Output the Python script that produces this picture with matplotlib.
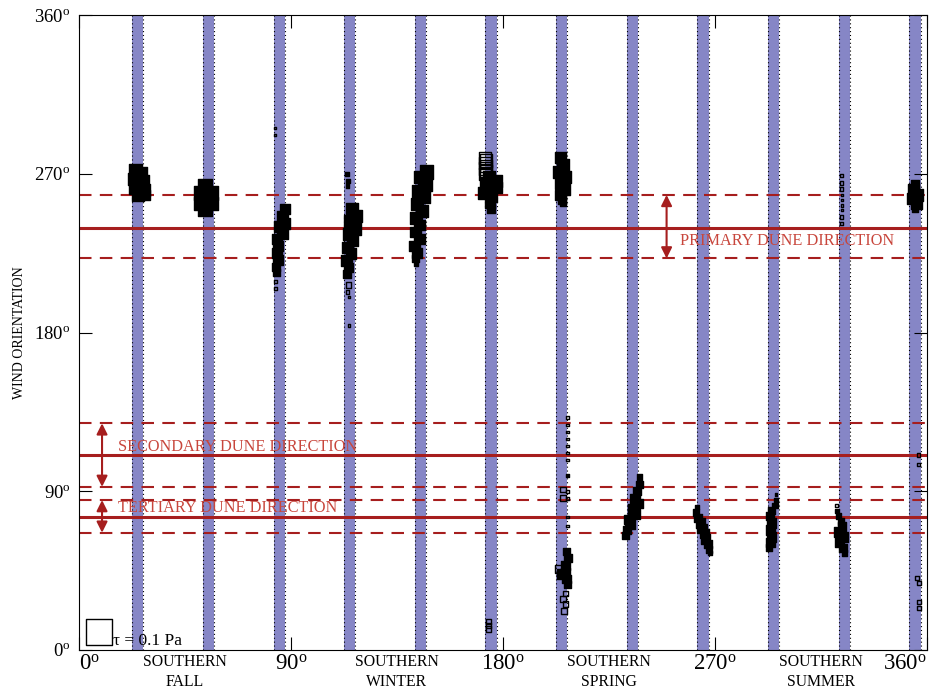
import matplotlib
matplotlib.use("Agg")
import matplotlib.pyplot as plt

plt.rcParams["font.family"] = ["Liberation Serif", "DejaVu Serif"]
plt.rcParams["mathtext.fontset"] = "custom"
plt.rcParams["mathtext.rm"] = "Liberation Serif"
plt.rcParams["mathtext.it"] = "Liberation Serif:italic"


#~~~Data~~~

# observation windows (Ls, degrees)
band_ls = [25, 55, 85, 115, 145, 175, 205, 235, 265, 295, 325, 355]
band_width = 4.8

# dune directions: centre and spread
dune_names = ["PRIMARY DUNE DIRECTION", "SECONDARY DUNE DIRECTION", "TERTIARY DUNE DIRECTION"]
dune_dir = [239, 110.5, 75.5]
dune_upper = [258, 128.5, 85]
dune_lower = [222, 92.5, 66.5]
arrow_ls = [249.5, 9.8, 9.8]
label_ls = [255, 16.5, 16.5]
label_dir = [232, 115, 80.5]

season_ls = [45, 135, 225, 315]
season_names = ["SOUTHERN\nFALL", "SOUTHERN\nWINTER", "SOUTHERN\nSPRING", "SOUTHERN\nSUMMER"]

tick_deg = [0, 90, 180, 270, 360]

# wind samples as (Ls, orientation, stress in Pa); dense groups overlap into solid blobs
dense_025 = [(24, 272, .045), (26.5, 271, .04), (23.5, 267, .045), (27, 266, .045), (24, 262, .045),
             (27.5, 261, .045), (25, 258, .045), (28, 258, .04), (25.5, 270, .04)]
dense_055 = [(53.5, 263, .05), (51.5, 259, .05), (56, 259, .05), (51.5, 253, .05), (56, 253, .05),
             (53.5, 250, .05), (54, 256, .05)]
dense_085 = [(87.5, 250, .035), (86.5, 246, .04), (87.5, 242, .04), (85, 240, .04), (86.5, 236, .04),
             (84, 233, .035), (84.5, 229, .035), (84, 225, .035), (84.5, 221, .035), (83.5, 217, .03),
             (84, 214, .025)]
dense_115 = [(116, 250, .045), (117.5, 246, .045), (115, 243, .045), (117, 239, .045), (114.5, 236, .045),
             (116, 232, .04), (114, 228, .04), (115.5, 225, .04), (113.5, 221, .04), (114.5, 217, .035),
             (114, 213, .03), (114, 270, .015), (114.2, 266, .015), (114, 263, .012)]
dense_145 = [(147.5, 271, .05), (145, 268, .045), (147, 264, .05), (144, 260, .045), (146.5, 257, .045),
             (143.5, 253, .045), (145.5, 249, .045), (143, 245, .045), (144.5, 241, .04), (143, 237, .04),
             (144.5, 233, .04), (142.5, 229, .04), (143.5, 225, .035), (143, 222, .025), (143, 219, .015)]
dense_175 = [(174, 268, .045), (177, 266, .045), (173, 264, .045), (177.5, 262, .04), (172, 259, .045),
             (175, 257, .04), (174.5, 253, .035), (175, 250, .03)]
dense_205 = [(204.5, 279, .04), (205.5, 275, .045), (204, 271, .045), (206.5, 268, .045), (204.5, 265, .045),
             (206, 261, .04), (204.5, 258, .04), (205, 255, .03), (205.5, 253, .02),
             (207, 56, .025), (207.5, 52, .03), (206.5, 48, .035), (206.5, 44, .035), (205, 43, .035),
             (207, 40, .03), (207.5, 37, .025), (207.5, 99, .012)]
dense_235 = [(238, 98, .02), (238, 94, .025), (237, 90, .03), (236, 86, .035), (237.5, 83, .035),
             (235, 80, .035), (236, 77, .035), (233.5, 74, .035), (234, 71, .035), (232.5, 68, .03),
             (232, 65, .025)]
dense_265 = [(262.5, 81, .015), (262, 78, .025), (263, 75, .03), (264, 72, .035), (264.5, 69, .035),
             (265.5, 66, .035), (266, 63, .035), (267, 60, .03), (267.5, 57, .025), (268, 55, .015)]
dense_295 = [(296, 88, .01), (296, 85, .015), (295.5, 82, .02), (294, 79, .025), (293.5, 76, .03),
             (294, 72, .035), (293.5, 68, .035), (294, 64, .035), (293.5, 61, .035), (293, 58, .025)]
dense_325 = [(322, 79, .015), (322.5, 76, .02), (323.5, 73, .025), (324, 70, .03), (322.5, 67, .035),
             (324.5, 64, .035), (323, 61, .035), (324.5, 58, .03), (325, 55, .02)]
dense_355 = [(355, 264, .03), (354.5, 261, .04), (356, 258, .045), (354, 256, .04), (355.5, 253, .04),
             (355, 250, .025)]

sparse_pts = [(83.2, 296, .006), (83.2, 292, .006), (83.5, 209, .012), (83.5, 205, .01),
              (114.5, 207, .02), (114, 203, .012), (114.5, 200, .008), (114.5, 184, .008),
              (172.5, 279, .045), (172.7, 277.5, .045), (172.5, 276, .045), (172.7, 274.5, .045),
              (172.5, 273, .045), (172.7, 271.5, .045), (172.5, 270, .045),
              (174, 16, .02), (174, 14, .02), (174, 12, .02),
              (207.5, 132, .01), (207.5, 127.6, .01), (207.5, 123.6, .01), (207.5, 119.6, .01),
              (207.5, 115.6, .01), (207.5, 111.6, .01), (207.5, 107.7, .01),
              (205.4, 91, .022), (205.4, 86, .022), (207.5, 90, .012), (207.5, 86, .01),
              (207.5, 75.4, .01), (207.5, 70.3, .01), (204, 46, .03),
              (206.5, 32, .02), (205.5, 29, .02), (206.5, 26, .02), (206, 22, .02),
              (321.5, 82, .012), (323.9, 269, .012), (323.9, 264.7, .012), (323.9, 261.3, .012),
              (323.9, 258, .008), (323.9, 255, .008), (323.9, 252, .008), (323.9, 249.5, .008),
              (323.9, 245.5, .012), (323.9, 242, .012),
              (356.5, 110.5, .012), (356.5, 105, .012), (356, 41, .015), (356.5, 38, .015),
              (356.5, 27, .015), (356.5, 24, .015)]

legend_tau = 0.1

band_color = "#8686c6"
line_color = "#a61e1e"
text_color = "#c8463c"


def _size(tau):
    """marker area (pt^2) for a stress value, side grows linearly with tau"""
    side = tau * 194.0
    return side ** 2


def _deg(v):
    return r"$\mathregular{%d^{o}}$" % v


fig = plt.figure(figsize=(9.4, 6.92), dpi=100)
ax = fig.add_axes([0.084, 0.0607, 0.902, 0.9176])

for ls in band_ls:
    ax.axvspan(ls - band_width / 2, ls + band_width / 2, color=band_color, lw=0, zorder=1)
    for edge in (ls - band_width / 2, ls + band_width / 2):
        ax.axvline(edge, color="k", ls=(0, (1, 2.5)), lw=0.8, zorder=1.5)

for i in range(len(dune_dir)):
    ax.axhline(dune_dir[i], color=line_color, lw=2.2, zorder=2)
    for d in (dune_upper[i], dune_lower[i]):
        ax.axhline(d, color=line_color, lw=1.5, ls=(0, (6, 4)), zorder=2)
    ax.annotate("", xy=(arrow_ls[i], dune_upper[i]), xytext=(arrow_ls[i], dune_lower[i]),
                arrowprops=dict(arrowstyle="<|-|>", color=line_color, lw=1.5,
                                mutation_scale=16, shrinkA=0, shrinkB=0), zorder=3)
    ax.text(label_ls[i], label_dir[i], dune_names[i], color=text_color, fontsize=11.7,
            va="center", ha="left", zorder=3)

dense_groups = [dense_025, dense_055, dense_085, dense_115, dense_145, dense_175,
                dense_205, dense_235, dense_265, dense_295, dense_325, dense_355]
for group in dense_groups:
    xs = [p[0] for p in group]
    ys = [p[1] for p in group]
    ss = [_size(p[2]) for p in group]
    ax.scatter(xs, ys, s=ss, marker="s", facecolor="k", edgecolor="k", lw=1.0, zorder=4)

ax.scatter([p[0] for p in sparse_pts], [p[1] for p in sparse_pts],
           s=[_size(p[2]) for p in sparse_pts], marker="s", facecolor="none",
           edgecolor="k", lw=1.0, zorder=5)

# stress scale key
ax.scatter([8.3], [10.2], s=_size(legend_tau), marker="s", facecolor="white", edgecolor="k",
           lw=1.0, zorder=5)
ax.text(14.4, 2.8, r"τ = 0.1 Pa", fontsize=12.5, va="baseline", ha="left", zorder=6)

ax.set_xlim(0, 360)
ax.set_ylim(0, 360)
ax.set_xticks(tick_deg, [_deg(v) for v in tick_deg], fontsize=16.5)
ax.set_yticks(tick_deg, [_deg(v) for v in tick_deg], fontsize=13.5)
xl = ax.get_xticklabels()
xl[0].set_ha("left")
xl[-1].set_ha("right")
ax.tick_params(axis="both", direction="in", length=9.5, width=0.8, top=True, right=True)
ax.tick_params(axis="x", pad=3)
ax.tick_params(axis="y", pad=6)
for sp in ax.spines.values():
    sp.set_linewidth(0.8)

for ls, name in zip(season_ls, season_names):
    ax.annotate(name, xy=(ls, 0), xycoords=("data", "axes fraction"), xytext=(0, -3),
                textcoords="offset points", ha="center", va="top", fontsize=11.3,
                linespacing=1.3)

ax.set_ylabel("WIND ORIENTATION", fontsize=10, labelpad=6)

fig.savefig("out.png", dpi=100)
